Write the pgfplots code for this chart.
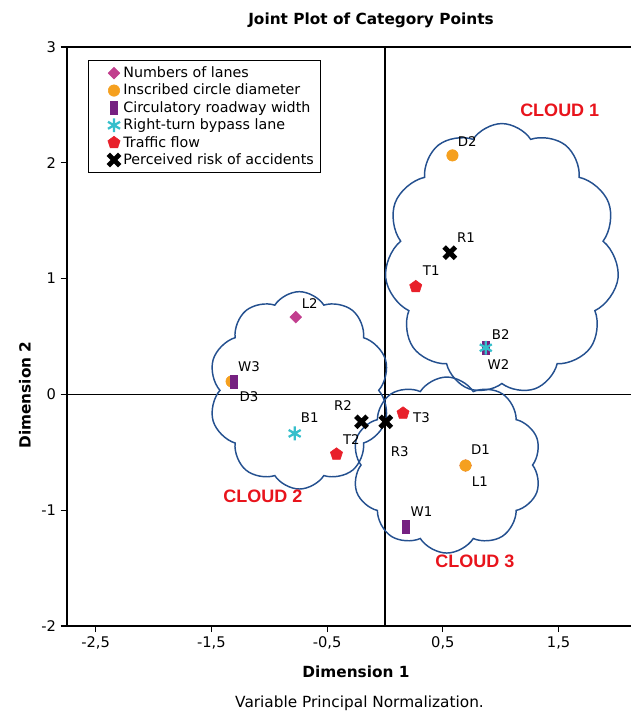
\documentclass[border=0pt]{standalone}
\usepackage{pgfplots}
\pgfplotsset{compat=1.18}
\usepackage{fontspec}
\setmainfont{DejaVu Sans}
\newfontfamily\cloudfont{Liberation Sans}
\usetikzlibrary{shapes.symbols,plotmarks}
\definecolor{cmag}{HTML}{C23E8E}
\definecolor{corange}{HTML}{F5A01F}
\definecolor{cpurple}{HTML}{762181}
\definecolor{ccyan}{HTML}{35BFCB}
\definecolor{cred}{HTML}{E8202A}
\definecolor{cblue}{HTML}{24508F}
\definecolor{cloudred}{HTML}{E8141C}
\pgfplotsset{myleg/.style={legend image code/.code={\path[draw=none] (0pt,-5pt) rectangle (21pt,5pt); \draw[##1] plot coordinates {(16pt,0pt)};}}}
\begin{document}
\begin{tikzpicture}
\useasboundingbox (0,0) rectangle (473.25pt,-534.75pt);
\begin{axis}[
  at={(50pt,-469.5pt)}, anchor=south west,
  scale only axis, width=423.2pt, height=434.25pt,
  xmin=-2.75, xmax=2.125, ymin=-2, ymax=3,
  axis x line*=box, axis y line*=left,
  axis line style={line width=1.3pt, black},
  xtick={-2.5,-1.5,-0.5,0.5,1.5},
  xticklabels={{-2,5},{-1,5},{-0,5},{0,5},{1,5}},
  ytick={-2,-1,0,1,2,3},
  yticklabels={-2,-1,0,1,2,3},
  xtick pos=left, ytick pos=left,
  tick align=outside, major tick length=4.5pt,
  tick style={line width=0.9pt, black},
  ticklabel style={font=\fontsize{11}{13}\selectfont},
  clip=false,
  legend cell align=left,
  legend style={at={(axis description cs:0.0377,0.9775)}, anchor=north west, draw=black, line width=1.1pt, font=\fontsize{10.7}{12}\selectfont, inner xsep=3pt, inner ysep=2.5pt, row sep=-0.6pt},
]
% zero reference lines
\draw[line width=1.3pt, black] (axis cs:0,-2) -- (axis cs:0,3);
\draw[line width=1.3pt, black] (axis cs:-2.75,0) -- (axis cs:2.125,0);
% clouds
\node[cloud, cloud puffs=11, cloud puff arc=115, cloud ignores aspect, draw=cblue, line width=1.1pt, inner sep=0pt, minimum width=176pt, minimum height=203pt] at (axis cs:1.01,1.17) {};
\node[cloud, cloud puffs=10, cloud puff arc=115, cloud ignores aspect, draw=cblue, line width=1.1pt, inner sep=0pt, minimum width=136pt, minimum height=148pt] at (axis cs:-0.74,0.035) {};
\node[cloud, cloud puffs=10, cloud puff arc=115, cloud ignores aspect, draw=cblue, line width=1.1pt, inner sep=0pt, minimum width=142pt, minimum height=132pt] at (axis cs:0.534,-0.61) {};

\addplot[only marks, mark=square*, color=cmag, mark size=3.1pt, line width=0.4pt, mark options={rotate=45, line width=0.4pt}, myleg] coordinates {(0.696,-0.614) (-0.771,0.668)};
\addlegendentry{Numbers of lanes}
\addplot[only marks, mark=*, color=corange, mark size=4.3pt, line width=0.4pt, mark options={line width=0.4pt}, myleg] coordinates {(0.696,-0.614) (0.583,2.064) (-1.325,0.112)};
\addlegendentry{Inscribed circle diameter}
\addplot[only marks, mark=square*, color=cpurple, mark size=4.8pt, line width=0.4pt, mark options={xscale=0.55, line width=0.4pt}, myleg] coordinates {(0.18,-1.146) (0.871,0.403) (-1.31,0.112)};
\addlegendentry{Circulatory roadway width}
\addplot[only marks, mark=asterisk, color=ccyan, mark size=5.2pt, line width=1.7pt, mark options={line width=1.7pt}, myleg] coordinates {(-0.78,-0.337) (0.871,0.403)};
\addlegendentry{Right-turn bypass lane}
\addplot[only marks, mark=pentagon*, color=cred, mark size=4.8pt, line width=0.4pt, mark options={line width=0.4pt}, myleg] coordinates {(0.266,0.930) (-0.419,-0.516) (0.156,-0.162)};
\addlegendentry{Traffic flow}
\addplot[only marks, mark=x, color=black, mark size=6pt, line width=3.6pt, mark options={line width=3.6pt}, myleg] coordinates {(0.56,1.224) (-0.203,-0.237) (0.007,-0.237)};
\addlegendentry{Perceived risk of accidents}

% point labels
\begin{scope}[font=\fontsize{10}{12}\selectfont]
\node at (axis cs:0.71,2.187) {D2};
\node at (axis cs:0.70,1.355) {R1};
\node at (axis cs:0.40,1.065) {T1};
\node at (axis cs:1.00,0.518) {B2};
\node at (axis cs:0.98,0.259) {W2};
\node at (axis cs:-0.65,0.786) {L2};
\node at (axis cs:-1.175,0.239) {W3};
\node at (axis cs:-1.175,-0.02) {D3};
\node at (axis cs:-0.65,-0.20) {B1};
\node at (axis cs:-0.362,-0.10) {R2};
\node at (axis cs:-0.29,-0.389) {T2};
\node at (axis cs:0.128,-0.49) {R3};
\node at (axis cs:0.315,-0.20) {T3};
\node at (axis cs:0.825,-0.48) {D1};
\node at (axis cs:0.82,-0.757) {L1};
\node at (axis cs:0.315,-1.015) {W1};
\end{scope}
\begin{scope}[font=\cloudfont\bfseries\fontsize{13.5}{15}\selectfont, text=cloudred]
\node at (axis cs:1.51,2.455) {CLOUD 1};
\node at (axis cs:-1.055,-0.88) {CLOUD 2};
\node at (axis cs:0.776,-1.44) {CLOUD 3};
\end{scope}
\end{axis}
\begin{scope}[x=0.75pt,y=-0.75pt]
\node[font=\bfseries\fontsize{11.5}{13}\selectfont] at (371,20) {Joint Plot of Category Points};
\node[font=\bfseries\fontsize{11.5}{13}\selectfont] at (356,671.7) {Dimension 1};
\node[font=\fontsize{11.5}{13}\selectfont] at (359.5,703) {Variable Principal Normalization.};
\node[font=\bfseries\fontsize{11.5}{13}\selectfont, rotate=90] at (25,395) {Dimension 2};
\end{scope}
\end{tikzpicture}
\end{document}
